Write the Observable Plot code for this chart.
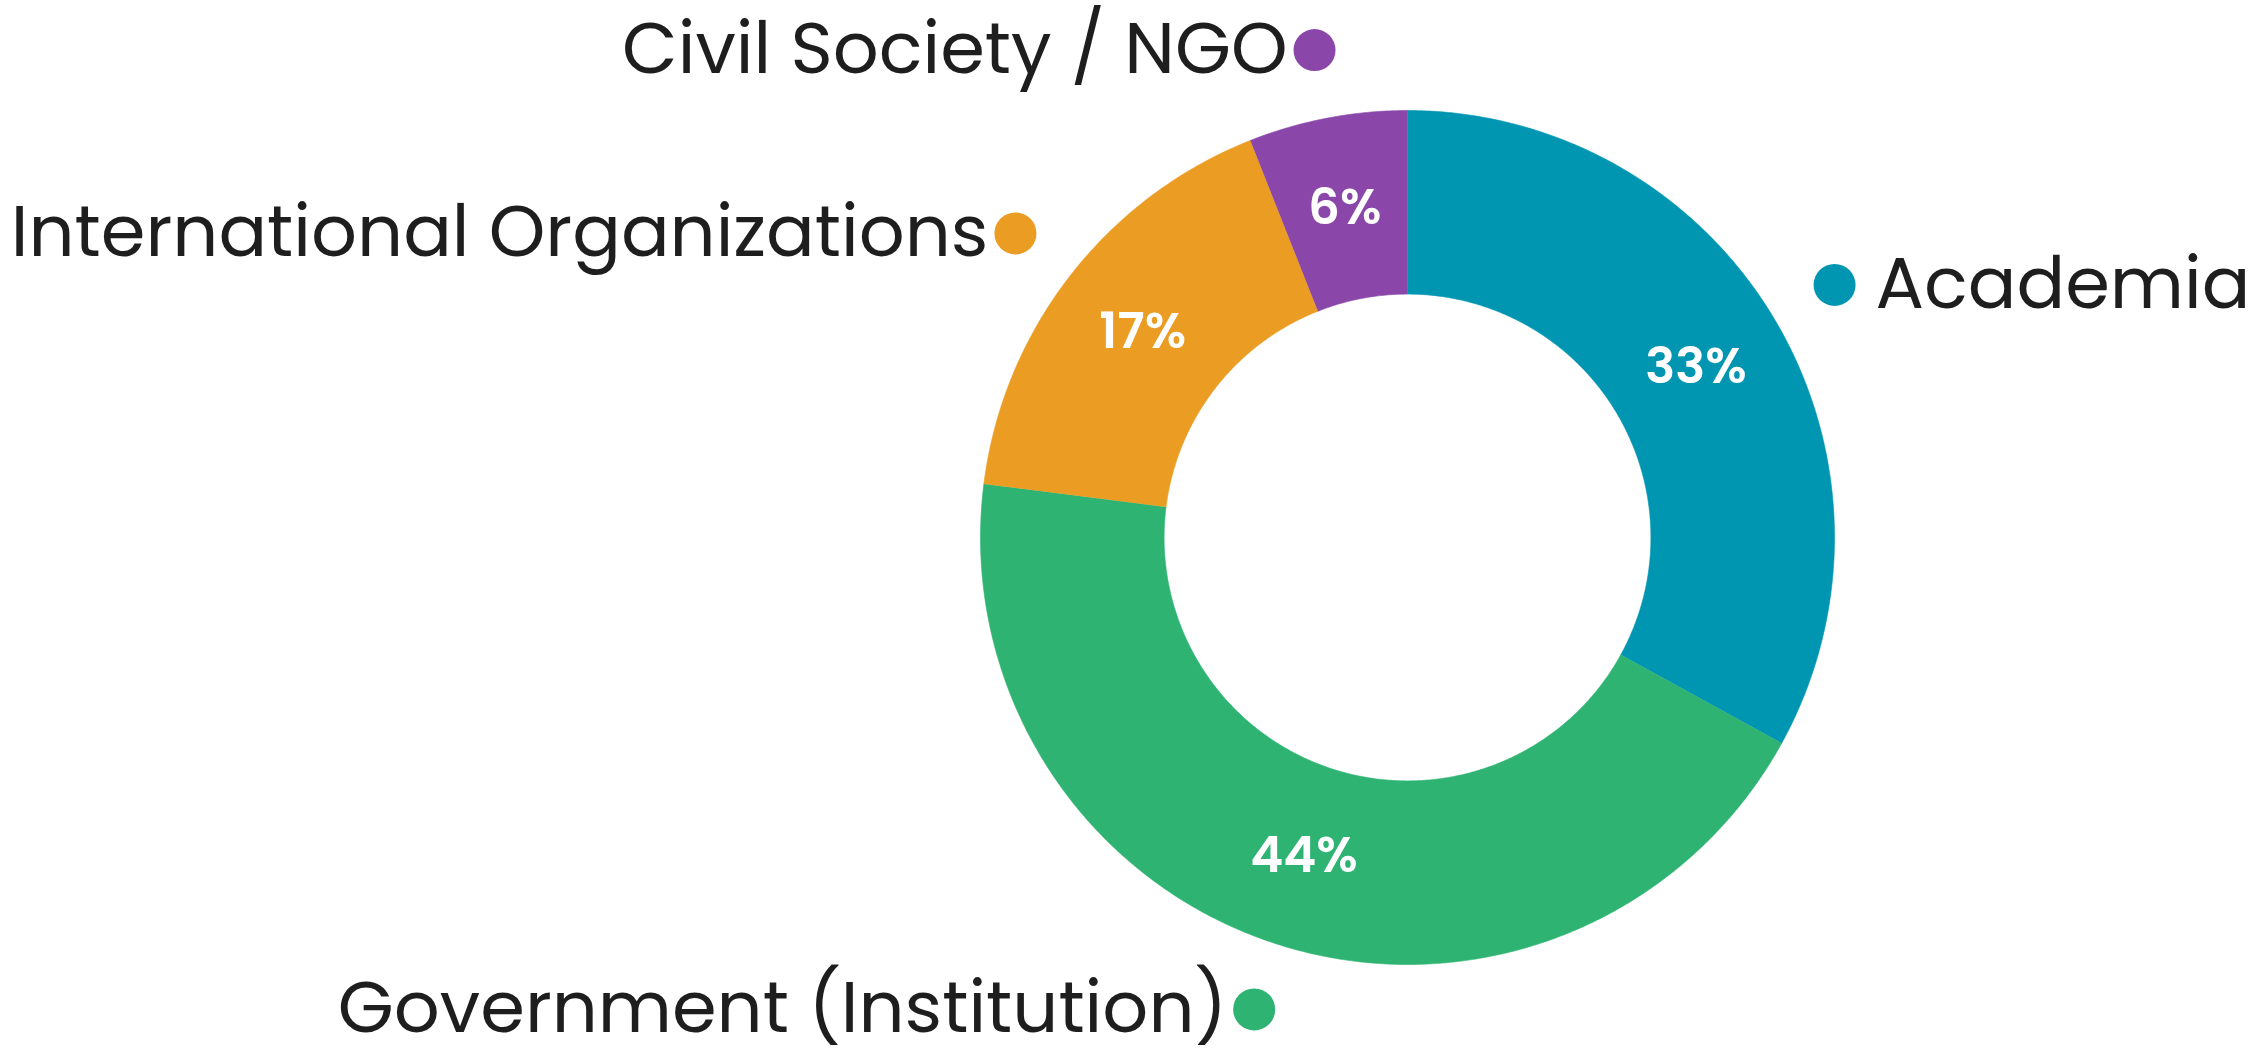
<!DOCTYPE html>
<html><head><meta charset="utf-8">
<script src="https://cdn.jsdelivr.net/npm/d3@7"></script>
<script src="https://cdn.jsdelivr.net/npm/@observablehq/plot@0.6"></script>
<style>body{margin:0;background:#fff;} svg{display:block;}</style>
</head><body><div id="chart"></div>
<script>
// ---- data ----
const categories = ["Academia", "Government (Institution)", "International Organizations", "Civil Society / NGO"];
const shares = [33, 44, 17, 6];
const valueLabels = ["33%", "44%", "17%", "6%"];
const colors = ["#0096B1", "#2EB372", "#EB9C22", "#8A47A9"];

// ---- layout ----
const W = 2261, H = 1048;
const cx = 1407, cy = 537, rpx = 427;   // donut centre and outer radius in px
const R_OUT = 1, R_IN = 0.57, R_LABEL = 0.785, R_DOT = 1.162;
const xDomain = [-cx / rpx, (W - cx) / rpx];
const yDomain = [-(H - cy) / rpx, cy / rpx];
const FONT = "Poppins, Lato, 'Open Sans', sans-serif";

const total = d3.sum(shares);
let acc = 0;
const slices = categories.map((c, i) => {
  const a0 = acc / total * 2 * Math.PI; acc += shares[i];
  const a1 = acc / total * 2 * Math.PI;
  return {c, i, a0, a1, mid: (a0 + a1) / 2};
});
const pts = [];
for (const s of slices) {
  const n = Math.max(8, Math.ceil((s.a1 - s.a0) / (Math.PI / 360)));
  for (let k = 0; k <= n; k++) { const a = s.a0 + (s.a1 - s.a0) * k / n; pts.push({c: s.c, x: R_OUT * Math.sin(a), y: R_OUT * Math.cos(a)}); }
  for (let k = n; k >= 0; k--) { const a = s.a0 + (s.a1 - s.a0) * k / n; pts.push({c: s.c, x: R_IN * Math.sin(a), y: R_IN * Math.cos(a)}); }
}
const px = r => d => r * Math.sin(d.mid);
const py = r => d => r * Math.cos(d.mid);

const chart = Plot.plot({
  width: W, height: H, margin: 0,
  style: {fontFamily: FONT, background: "#fff"},
  x: {domain: xDomain, axis: null},
  y: {domain: yDomain, axis: null},
  color: {domain: categories, range: colors},
  marks: [
    Plot.line(pts, {x: "x", y: "y", z: "c", fill: "c", stroke: "c", strokeWidth: 0.6}),
    Plot.text(slices, {x: px(R_LABEL), y: py(R_LABEL), text: d => valueLabels[d.i], fill: "white", fontSize: 50, fontWeight: 600}),
    Plot.dot(slices, {x: px(R_DOT), y: py(R_DOT), r: 21, fill: "c"}),
    Plot.text(slices, {filter: d => Math.sin(d.mid) > 0, x: px(R_DOT), y: py(R_DOT), text: "c", textAnchor: "start", dx: 41, fontSize: 72, fill: "#1e1e1e"}),
    Plot.text(slices, {filter: d => Math.sin(d.mid) <= 0, x: px(R_DOT), y: py(R_DOT), text: "c", textAnchor: "end", dx: -27, fontSize: 72, fill: "#1e1e1e"})
  ]
});
document.getElementById("chart").appendChild(chart);
</script>
</body></html>
